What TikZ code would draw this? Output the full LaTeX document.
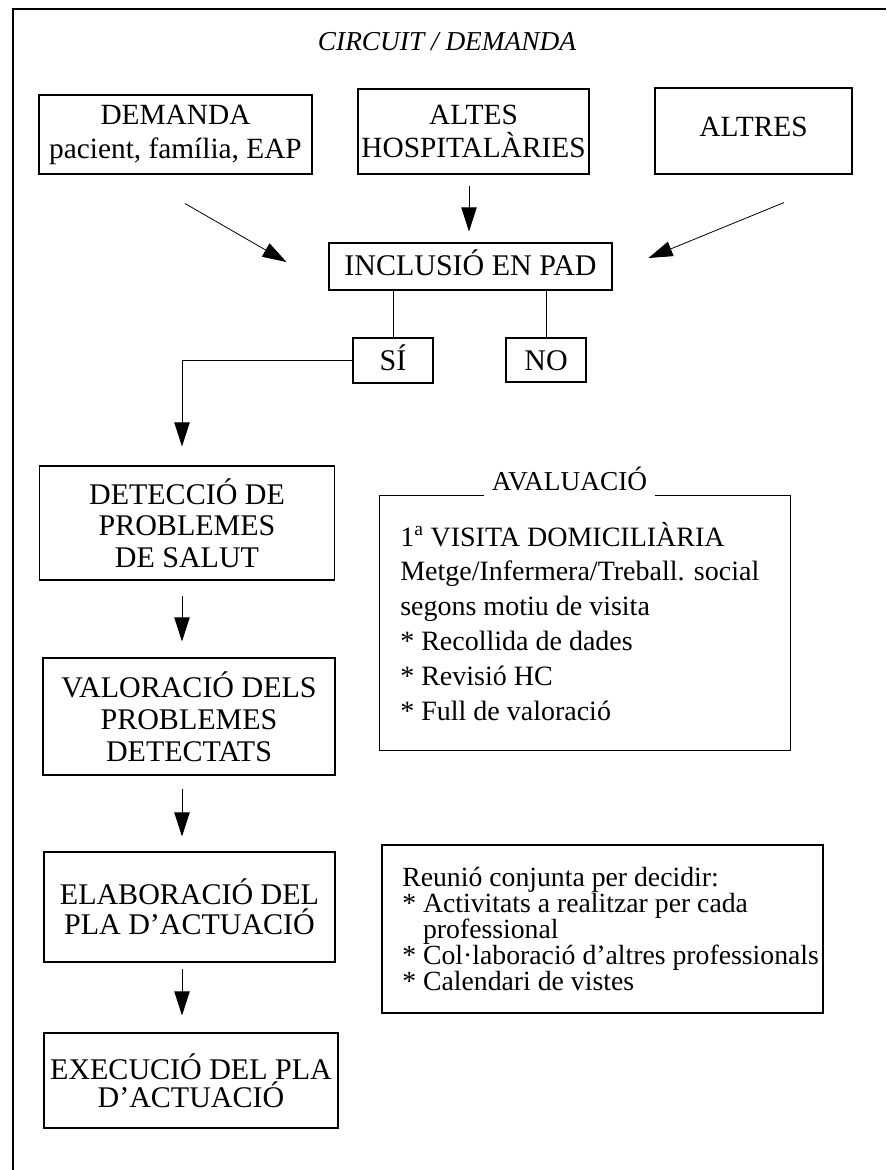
\documentclass[tikz,border=0pt]{standalone}
\usepackage{fontspec}
\setmainfont{Liberation Serif}
\usetikzlibrary{arrows.meta}
\newcommand\fsz[2]{\fontsize{#1}{#2}\selectfont}
\begin{document}
\begin{tikzpicture}[x=0.75pt,y=-0.75pt,
  box/.style={draw, line width=0.8pt, inner sep=0pt, align=center, font=\fsz{22.5}{24}},
  capsline/.style={text height=15pt, text depth=0pt},
  sz/.style 2 args={minimum width={#1*0.75pt}, minimum height={#2*0.75pt}},
  arr/.style={line width=0.6pt, -{Triangle[length=18pt,width=11.5pt]}},
  ln/.style={line width=0.6pt},
  frame/.style={line width=0.8pt},
  side/.style={anchor=base west, inner sep=0pt, font=\fsz{21}{22}}]
\useasboundingbox (0,0) rectangle (886,1170);
% outer frame
\draw[line width=1pt] (886,9) -- (13,9) -- (13,1170);
% title
\node[font=\fsz{20.5}{22}\itshape] (title) at (447,42) {CIRCUIT / DEMANDA};
% top boxes
\node[box, sz={273}{79}, font=\fsz{22}{25.5}] (dem) at (175.5,134.5) {DEMANDA\\pacient, família, EAP};
\node[box, sz={231}{85}, font=\fsz{22}{24.75}] (alt) at (473.5,131.5) {ALTES\\HOSPITALÀRIES};
\node[box, sz={197}{86}, font=\fsz{22}{24}, text height=15pt, text depth=7pt] (altr) at (753.5,131) {ALTRES};
\node[box, sz={283}{47}, capsline, text depth=1.5pt] (inc) at (470.5,266.5) {INCLUSIÓ EN PAD};
\node[box, sz={80}{45}, capsline] (si) at (393,360.5) {SÍ};
\node[box, sz={80}{44}, capsline] (no) at (546,360) {NO};
% left column
\node[box, sz={295}{114}, font=\fsz{22.5}{23.6}] (det) at (187,523) {DETECCIÓ DE\\PROBLEMES\\DE SALUT};
\node[box, sz={292}{117}, font=\fsz{22.5}{24}] (val) at (189,716.5) {VALORACIÓ DELS\\PROBLEMES\\DETECTATS};
\node[box, sz={291}{110}, font=\fsz{22.5}{22.5}] (ela) at (189.5,907) {ELABORACIÓ DEL\\PLA D’ACTUACIÓ};
\node[box, sz={294}{95}, font=\fsz{22.5}{21}] (exe) at (191,1080.5) {EXECUCIÓ DEL PLA\\D’ACTUACIÓ};
% connectors top
\draw[arr] ([shift={(9.5,29)}]dem.south) -- ([shift={(-42,-4.5)}]inc.west);
\draw[arr] ([shift={(-4.5,11)}]alt.south) -- ([shift={(-1.5,-11)}]inc.north);
\draw[arr] ([shift={(30.5,28)}]altr.south) -- ([shift={(36,-8.5)}]inc.east);
\draw[ln] (si.north) -- (si.north |- inc.south);
\draw[ln] (no.north) -- (no.north |- inc.south);
\draw[arr] (si.west) -| ([shift={(-5,-19)}]det.north);
% connectors left column
\draw[arr] ([shift={(-5,15)}]det.south) -- ([shift={(-7,-16)}]val.north);
\draw[arr] ([shift={(-7,13)}]val.south) -- ([shift={(-7.5,-15)}]ela.north);
\draw[arr] ([shift={(-7.5,6)}]ela.south) -- ([shift={(-9,-17)}]exe.north);
% AVALUACIO box
\node[sz={410}{254}, inner sep=0pt] (avb) at (585,623) {};
\node[font=\fsz{20.5}{22}, inner ysep=0pt, inner xsep={8*0.75pt}] (avl) at (569.5,479) {AVALUACIÓ};
\draw[frame] (avl.east |- avb.north) -- (avb.north east) -- (avb.south east) -- (avb.south west) -- (avb.north west) -- (avl.west |- avb.north);
\node[side] (av1) at (400,546) {1\textsuperscript{a} VISITA DOMICILIÀRIA};
\node[side] (av2) at (400,580) {Metge/Infermera/Treball. social};
\node[side] (av3) at (400,615) {segons motiu de visita};
\node[side] (av4) at (400,650) {* Recollida de dades};
\node[side] (av5) at (400,685) {* Revisió HC};
\node[side] (av6) at (400,720) {* Full de valoració};
% Reunio box
\node[draw, frame, sz={441}{168}, inner sep=0pt] (reu) at (602.5,929) {};
\node[side, font=\fsz{20.8}{22}] (re1) at (402,886) {Reunió conjunta per decidir:};
\node[side, font=\fsz{20.8}{22}] (re2) at (402,912) {* Activitats a realitzar per cada};
\node[side, font=\fsz{20.8}{22}] (re3) at (402,938) {\phantom{*} professional};
\node[side, font=\fsz{20.8}{22}] (re4) at (402,964) {* Col·laboració d’altres professionals};
\node[side, font=\fsz{20.8}{22}] (re5) at (402,990) {* Calendari de vistes};
\end{tikzpicture}
\end{document}
